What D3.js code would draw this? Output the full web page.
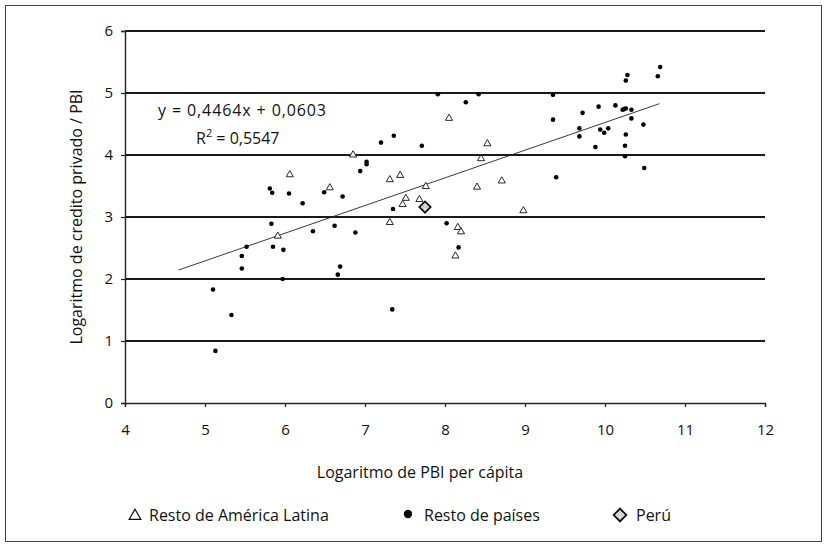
<!DOCTYPE html>
<html>
<head>
  <meta charset="utf-8">
  <title>Crédito privado vs PBI per cápita</title>
  <script src="https://d3js.org/d3.v7.min.js"></script>
  <style>
    body { margin: 0; background: #fff; }
    text { font-family: "Open Sans", "Liberation Sans", sans-serif; fill: #111; }
  </style>
</head>
<body>
  <div id="chart"></div>

  <script>
    // datos: [log PBI per cápita, log crédito privado / PBI]
    const latam = [
      [5.91, 2.70], [6.06, 3.69], [6.56, 3.48], [6.85, 4.01], [7.31, 3.61],
      [7.44, 3.68], [7.31, 2.92], [7.51, 3.31], [7.47, 3.21], [7.68, 3.29],
      [7.76, 3.50], [8.05, 4.60], [8.16, 2.84], [8.20, 2.77], [8.13, 2.38],
      [8.40, 3.49], [8.45, 3.95], [8.53, 4.19], [8.71, 3.59], [8.98, 3.11]
    ];
    const resto = [
      [5.10, 1.83], [5.13, 0.84], [5.33, 1.42], [5.46, 2.37], [5.46, 2.17],
      [5.52, 2.52], [5.81, 3.46], [5.84, 3.39], [5.83, 2.89], [5.85, 2.52],
      [5.98, 2.47], [5.97, 2.00], [6.05, 3.38], [6.22, 3.22], [6.35, 2.77],
      [6.49, 3.40], [6.62, 2.86], [6.72, 3.33], [6.69, 2.20], [6.66, 2.07],
      [6.88, 2.75], [6.94, 3.74], [7.02, 3.85], [7.02, 3.89], [7.20, 4.20],
      [7.36, 4.31], [7.35, 3.13], [7.34, 1.51], [7.71, 4.15], [7.91, 4.98],
      [8.02, 2.90], [8.17, 2.51], [8.26, 4.85], [8.42, 4.98], [9.35, 4.97],
      [9.35, 4.57], [9.39, 3.64], [9.68, 4.43], [9.68, 4.30], [9.72, 4.68],
      [9.88, 4.13], [9.92, 4.78], [9.94, 4.41], [9.99, 4.36], [10.04, 4.43],
      [10.13, 4.80], [10.22, 4.73], [10.24, 4.74], [10.26, 4.75], [10.33, 4.73],
      [10.33, 4.59], [10.26, 4.33], [10.25, 4.15], [10.25, 3.98], [10.48, 4.49],
      [10.49, 3.79], [10.26, 5.20], [10.28, 5.29], [10.66, 5.27], [10.69, 5.42]
    ];
    const peru = [[7.75, 3.16]];

    // tendencia lineal: y = 0,4464x + 0,0603
    const slope = 0.4464;
    const intercept = 0.0603;
    const trendRange = [4.67, 10.68];

    const xTicks = [4, 5, 6, 7, 8, 9, 10, 11, 12];
    const yTicks = [0, 1, 2, 3, 4, 5, 6];

    const width = 828, height = 552;
    const svg = d3.select("#chart").append("svg")
      .attr("width", width)
      .attr("height", height);

    // patrón del rombo de Perú
    const defs = svg.append("defs");
    const pat = defs.append("pattern")
      .attr("id", "hatch")
      .attr("width", 2).attr("height", 2)
      .attr("patternUnits", "userSpaceOnUse");
    pat.append("rect").attr("width", 2).attr("height", 2).attr("fill", "#f2f2f2");
    pat.append("rect").attr("width", 1).attr("height", 1).attr("fill", "#888");

    // marco exterior
    svg.append("rect")
      .attr("x", 5.5).attr("y", 5.5)
      .attr("width", 816).attr("height", 536)
      .attr("fill", "none")
      .attr("stroke", "#444")
      .attr("stroke-width", 1);

    const x = d3.scaleLinear().domain([4, 12]).range([125, 765]);
    const y = d3.scaleLinear().domain([0, 6]).range([403, 31]);

    // líneas de cuadrícula
    svg.append("g")
      .selectAll("line")
      .data(yTicks.filter(d => d > 0))
      .join("line")
      .attr("x1", x(4)).attr("x2", x(12))
      .attr("y1", d => y(d)).attr("y2", d => y(d))
      .attr("stroke", "#1a1a1a")
      .attr("stroke-width", 1.8);

    // ejes
    const yAxis = svg.append("g")
      .attr("transform", `translate(${x(4)},0)`)
      .call(d3.axisLeft(y).tickValues(yTicks).tickSize(4).tickPadding(8).tickFormat(d3.format("d")));
    const xAxis = svg.append("g")
      .attr("transform", `translate(0,${y(0)})`)
      .call(d3.axisBottom(x).tickValues(xTicks).tickSize(4).tickPadding(17).tickFormat(d3.format("d")));

    [xAxis, yAxis].forEach(g => {
      g.select(".domain").attr("stroke", "#222").attr("stroke-width", 1.4);
      g.selectAll(".tick line").attr("stroke", "#222").attr("stroke-width", 1.2);
      g.selectAll(".tick text")
        .style("font-family", "'Open Sans', 'Liberation Sans', sans-serif")
        .style("font-size", "15px")
        .attr("fill", "#111");
    });

    // línea de tendencia
    svg.append("line")
      .attr("x1", x(trendRange[0])).attr("y1", y(slope * trendRange[0] + intercept))
      .attr("x2", x(trendRange[1])).attr("y2", y(slope * trendRange[1] + intercept))
      .attr("stroke", "#222")
      .attr("stroke-width", 0.9);

    const tri = d3.symbol().type(d3.symbolTriangle);

    // resto de países
    svg.append("g")
      .selectAll("circle")
      .data(resto)
      .join("circle")
      .attr("cx", d => x(d[0]))
      .attr("cy", d => y(d[1]))
      .attr("r", 2.3)
      .attr("fill", "#000");

    // resto de América Latina
    svg.append("g")
      .selectAll("path")
      .data(latam)
      .join("path")
      .attr("d", tri.size(22)())
      .attr("transform", d => `translate(${x(d[0])},${y(d[1]) + 0.5})`)
      .attr("fill", "#fff")
      .attr("stroke", "#111")
      .attr("stroke-width", 0.9);

    // Perú
    svg.append("g")
      .selectAll("rect")
      .data(peru)
      .join("rect")
      .attr("x", -4).attr("y", -4)
      .attr("width", 8).attr("height", 8)
      .attr("transform", d => `translate(${x(d[0])},${y(d[1])}) rotate(45)`)
      .attr("fill", "url(#hatch)")
      .attr("stroke", "#111")
      .attr("stroke-width", 1.8);

    // ecuación
    const eq = svg.append("g").style("font-size", "16px");
    eq.append("text")
      .attr("x", 158).attr("y", 116)
      .attr("textLength", 168)
      .text("y = 0,4464x + 0,0603");
    const r2 = eq.append("text").attr("x", 196).attr("y", 144);
    r2.append("tspan").text("R");
    r2.append("tspan").attr("dy", -7).style("font-size", "11px").text("2");
    r2.append("tspan").attr("dy", 7).text(" = 0,5547");

    // títulos de los ejes
    svg.append("text")
      .attr("x", 420).attr("y", 478)
      .attr("text-anchor", "middle")
      .style("font-size", "16px")
      .text("Logaritmo de PBI per cápita");

    svg.append("text")
      .attr("transform", `translate(82,${(y(0) + y(6)) / 2}) rotate(-90)`)
      .attr("text-anchor", "middle")
      .style("font-size", "16px")
      .text("Logaritmo de credito privado / PBI");

    // leyenda
    const legend = svg.append("g").style("font-size", "16px");
    legend.append("path")
      .attr("d", tri.size(60)())
      .attr("transform", "translate(135,516)")
      .attr("fill", "#fff").attr("stroke", "#111").attr("stroke-width", 1.2);
    legend.append("text").attr("x", 149).attr("y", 521).text("Resto de América Latina");

    legend.append("circle")
      .attr("cx", 408).attr("cy", 514).attr("r", 4.2).attr("fill", "#000");
    legend.append("text").attr("x", 424).attr("y", 521).text("Resto de países");

    legend.append("rect")
      .attr("x", -4.5).attr("y", -4.5).attr("width", 9).attr("height", 9)
      .attr("transform", "translate(620,515) rotate(45)")
      .attr("fill", "url(#hatch)").attr("stroke", "#111").attr("stroke-width", 1.8);
    legend.append("text").attr("x", 636).attr("y", 521).text("Perú");
  </script>
</body>
</html>
